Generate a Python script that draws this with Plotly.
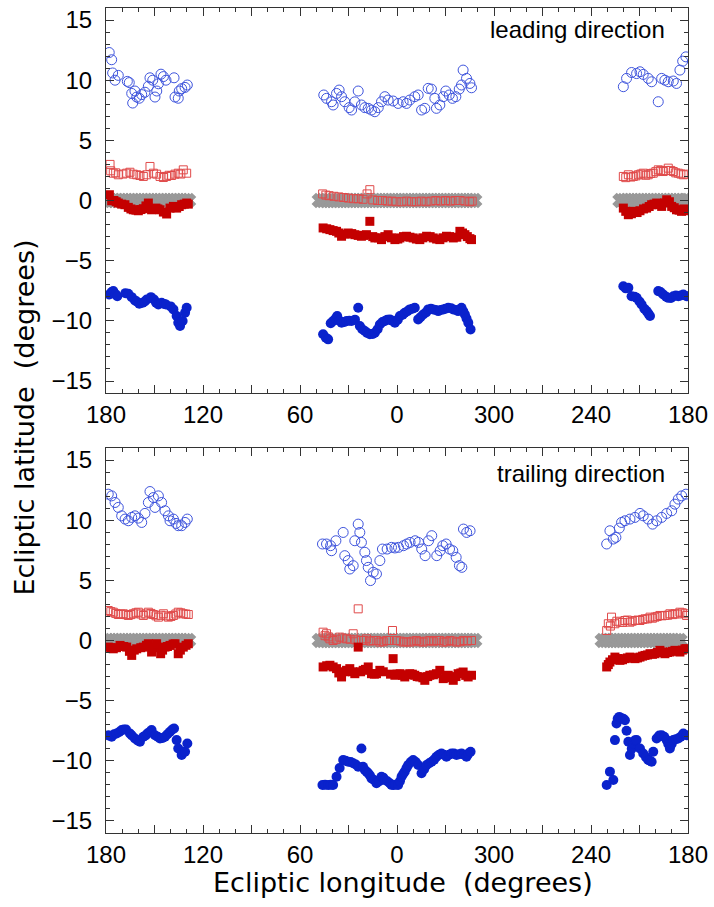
import plotly.graph_objects as go

# ---------------- data (ecliptic longitude deg, ecliptic latitude deg) ----------------
tick_labels = ['180', '120', '60', '0', '300', '240', '180']

lead_open_circles = [
    (178.0, 12.3), (176.5, 11.7), (175.9, 10.6), (174.4, 10.0), (172.4, 10.4), (166.8, 9.9), (165.6, 9.8),
    (164.1, 8.9), (163.5, 8.1), (162.1, 9.1), (161.0, 8.6), (159.4, 8.5), (157.9, 8.8), (155.9, 9.0),
    (153.8, 9.5), (152.8, 10.2), (151.1, 10.0), (149.7, 8.6), (148.6, 9.1), (147.6, 9.7), (146.0, 10.5),
    (144.5, 10.3), (142.9, 10.0), (137.9, 10.2), (137.3, 8.6), (135.3, 8.5), (134.7, 9.1), (133.2, 9.3),
    (131.1, 9.4), (129.7, 9.6),
    (45.3, 8.77), (43.6, 8.49), (40.5, 8.21), (39.5, 7.94), (37.4, 8.9), (35.8, 9.18), (34.3, 8.63),
    (32.3, 8.21), (29.6, 7.72), (28.1, 7.52), (26.1, 8.2), (24.0, 9.1), (22.0, 7.94), (19.9, 7.72),
    (17.8, 7.66), (15.8, 7.52), (13.7, 7.38), (11.6, 7.72), (9.6, 8.21), (7.5, 8.63), (5.5, 8.35),
    (2.4, 8.27), (359.3, 8.07), (356.2, 8.21), (354.1, 8.07), (352.1, 8.35), (349.0, 8.63), (346.9, 8.77),
    (344.8, 7.52), (342.8, 7.66), (340.7, 9.32), (338.7, 9.26), (336.6, 8.49), (335.6, 7.66), (333.5, 7.94),
    (331.4, 8.63), (329.8, 9.1), (327.7, 8.77), (325.7, 8.49), (323.6, 8.63), (321.5, 9.26), (320.1, 9.6),
    (319.1, 10.84), (317.0, 10.15), (314.9, 9.73), (313.9, 9.37),
    (220.0, 9.46), (218.0, 10.15), (214.9, 10.64), (211.8, 10.55), (209.7, 10.7), (207.7, 10.48),
    (204.6, 10.15), (202.5, 9.87), (198.4, 8.21), (196.3, 10.15), (194.3, 10.0), (192.2, 9.87),
    (189.1, 9.93), (187.1, 9.73), (185.0, 10.84), (183.3, 11.58), (181.3, 11.94),
]

lead_open_squares = [
    (177.5, 3.0), (177.1, 2.47), (175.5, 2.27), (174.0, 2.3), (172.4, 2.14), (169.5, 2.2), (167.2, 2.27),
    (165.2, 2.35), (163.1, 2.19), (161.0, 2.14), (159.0, 2.08), (156.9, 2.0), (154.8, 2.14), (152.8, 2.83),
    (150.7, 2.27), (148.7, 2.19), (146.6, 2.0), (144.5, 1.91), (142.5, 2.0), (141.0, 2.1), (139.4, 2.08),
    (137.3, 2.19), (135.3, 2.27), (133.7, 2.2), (132.2, 2.55), (130.1, 2.27),
    (46, 0.55), (44, 0.45), (42, 0.4), (39, 0.35), (36, 0.3), (33, 0.25), (30, 0.2), (27, 0.15), (24, 0.15),
    (21, 0.1), (18.5, 0.55), (16.8, 0.9), (15, 0.05), (12, 0.0), (9, 0.0), (6, -0.05), (3, -0.05),
    (0.5, -0.1), (357, -0.1), (354, -0.05), (351, -0.1), (348, -0.1), (345, -0.05), (342, -0.1),
    (339, -0.05), (336, 0.0), (333, -0.05), (330, 0.0), (327, -0.05), (324, 0.0), (321, 0.0), (318, -0.05),
    (315, -0.1), (313.5, -0.05),
    (220.0, 2.0), (218.5, 1.9), (216.9, 2.14), (215.3, 1.95), (213.8, 2.0), (212.2, 2.05), (210.7, 2.14),
    (209.2, 2.2), (207.7, 2.27), (206.1, 2.1), (204.6, 2.14), (203.0, 2.25), (201.5, 2.27), (199.9, 2.4),
    (198.4, 2.55), (196.9, 2.5), (195.3, 2.41), (193.8, 2.5), (192.2, 2.69), (190.6, 2.5), (189.1, 2.41),
    (187.6, 2.3), (186.0, 2.27), (184.4, 2.2), (182.9, 2.14), (180.8, 2.19),
]

lead_filled_squares = [
    (177.9, 0.48), (176.5, -0.02), (175.1, 0.0), (173.7, -0.1), (172.4, -0.21), (170.3, -0.3), (168.3, -0.35),
    (166.2, -0.57), (164.6, -0.7), (163.1, -0.77), (161.5, -0.8), (160.0, -0.85), (158.4, -0.75),
    (156.9, -0.68), (155.3, -0.45), (153.8, -0.21), (151.8, -0.77), (150.5, -0.7), (149.1, -0.63),
    (147.9, -0.7), (146.6, -0.77), (144.5, -0.96), (142.5, -1.12), (140.4, -0.63), (138.3, -0.49),
    (136.3, -0.63), (134.7, -0.5), (133.2, -0.35), (131.6, -0.3), (130.1, -0.21), (129.1, -0.3),
    (45.7, -2.28), (43.5, -2.35), (41.5, -2.42), (39.5, -2.5), (37.4, -2.56), (36.0, -2.7), (34.3, -2.97),
    (32.0, -2.8), (30.2, -2.7), (28.0, -2.75), (26.1, -2.84), (24.0, -2.9), (22.0, -2.97), (20.5, -2.9),
    (18.9, -2.84), (16.8, -1.73), (15.0, -3.0), (13.7, -3.11), (11.5, -3.1), (9.6, -3.25), (7.5, -3.0),
    (5.5, -2.84), (3.5, -3.1), (1.3, -3.25), (359.5, -3.2), (358.2, -3.11), (356.0, -3.0), (354.1, -2.97),
    (352.0, -3.05), (350.0, -3.11), (348.0, -3.2), (345.9, -3.25), (344.0, -3.1), (341.7, -2.97),
    (339.5, -3.0), (337.6, -3.11), (335.5, -3.2), (333.5, -3.25), (331.5, -3.1), (329.4, -2.97),
    (327.5, -3.0), (325.2, -3.11), (323.0, -3.05), (321.1, -2.56), (319.5, -2.7), (318.0, -2.84),
    (316.5, -3.0), (314.9, -3.17), (313.9, -3.25),
    (220.0, -0.63), (218.5, -0.9), (216.9, -1.18), (215.0, -1.1), (213.8, -0.9), (211.5, -1.0), (209.7, -0.85),
    (207.5, -0.7), (205.6, -0.63), (204.0, -0.5), (202.5, -0.35), (201.0, -0.3), (199.4, -0.21),
    (198.0, -0.35), (196.3, -0.49), (194.5, -0.2), (193.2, 0.06), (191.5, -0.1), (190.1, -0.49),
    (188.5, -0.6), (187.1, -0.77), (185.5, -0.8), (184.0, -0.9), (182.5, -0.7), (180.9, -0.85),
]

lead_filled_circles = [
    (177.9, -7.81), (176.5, -7.6), (175.5, -7.53), (174.0, -7.8), (173.0, -7.95), (168.0, -7.7), (166.2, -7.75),
    (164.1, -8.03), (162.1, -8.3), (161.0, -8.4), (159.4, -8.58), (157.3, -8.5), (156.0, -8.4), (154.8, -8.22),
    (152.2, -8.03), (150.3, -8.22), (149.0, -8.5), (147.6, -8.64), (145.6, -8.5), (144.0, -8.6), (142.9, -8.64),
    (140.0, -8.8), (138.3, -9.05), (136.3, -9.6), (135.3, -10.16), (134.2, -10.43), (132.6, -10.02),
    (131.1, -9.33), (130.1, -8.91),
    (45.7, -11.12), (44.0, -11.4), (42.6, -11.54), (41.0, -10.2), (39.5, -10.02), (38.0, -9.8), (37.0, -9.6),
    (35.5, -10.0), (34.3, -10.16), (32.5, -10.1), (31.2, -10.02), (29.5, -10.0), (28.1, -10.02), (26.0, -9.9),
    (24.0, -8.91), (23.0, -10.43), (21.5, -10.7), (19.9, -10.85), (18.5, -11.0), (16.8, -11.12), (15.0, -11.1),
    (13.7, -10.99), (12.0, -10.7), (10.6, -10.3), (9.0, -10.1), (7.5, -10.02), (6.0, -9.9), (4.4, -9.88),
    (3.0, -10.0), (1.3, -10.16), (359.5, -9.9), (358.2, -9.6), (356.5, -9.5), (355.2, -9.33), (353.5, -9.2),
    (352.1, -9.05), (350.5, -9.0), (349.0, -8.91), (346.9, -9.88), (345.5, -9.7), (343.8, -9.47), (342.0, -9.3),
    (340.7, -9.05), (339.0, -9.0), (337.6, -9.05), (336.0, -9.1), (334.5, -9.19), (333.0, -9.1), (331.4, -9.05),
    (330.0, -9.0), (328.3, -8.91), (326.5, -8.95), (325.2, -9.05), (323.5, -9.1), (322.2, -9.19), (320.1, -8.91),
    (319.0, -9.2), (318.0, -9.47), (317.0, -9.8), (315.9, -10.16), (314.5, -10.71),
    (220.0, -7.12), (218.5, -7.3), (216.9, -7.26), (214.9, -7.95), (213.0, -8.0), (211.8, -8.09), (210.0, -8.4),
    (208.7, -8.64), (207.0, -9.0), (205.6, -9.19), (204.5, -9.4), (203.5, -9.6), (198.4, -7.53), (197.0, -7.6),
    (195.3, -7.81), (193.5, -8.0), (192.2, -8.09), (190.5, -8.1), (189.1, -7.95), (187.5, -7.9), (186.0, -7.95),
    (184.5, -7.9), (182.9, -7.81), (180.9, -7.95),
]

lead_gray_lon = [179, 177, 175, 173, 171, 169, 167, 165, 163, 161, 159, 157, 155, 153, 151, 149, 147, 145,
                 143, 141, 139, 137, 135, 133, 131, 129,
                 48, 46, 44, 42, 40, 38, 36, 34, 32, 30, 28, 26, 24, 22, 20, 18, 16, 14, 12, 10, 8, 6, 4, 2, 0,
                 358, 356, 354, 352, 350, 348, 346, 344, 342, 340, 338, 336, 334, 332, 330, 328, 326, 324, 322,
                 320, 318, 316, 314, 312,
                 222, 220, 218, 216, 214, 212, 210, 208, 206, 204, 202, 200, 198, 196, 194, 192, 190, 188, 186,
                 184, 182, 181]
lead_gray_lat = [0.0] * len(lead_gray_lon)

trail_open_circles = [
    (178.6, 12.16), (176.5, 12.02), (174.4, 11.47), (172.4, 11.06), (170.3, 10.36), (168.2, 10.09), (166.2, 9.95),
    (164.1, 10.23), (162.1, 10.36), (160.0, 10.17), (157.9, 9.81), (155.9, 10.56), (153.8, 11.47), (152.8, 12.38),
    (150.7, 11.88), (149.7, 11.06), (147.6, 12.02), (145.6, 11.47), (143.5, 10.78), (141.4, 10.36), (140.4, 9.95),
    (138.3, 10.09), (136.7, 9.73), (135.3, 9.54), (133.2, 9.54), (131.1, 9.81), (129.7, 10.09),
    (46.1, 8.02), (43.6, 8.02), (41.1, 7.88), (40.5, 7.46), (37.8, 8.29), (33.3, 8.98), (32.3, 7.05), (30.2, 6.64),
    (29.2, 5.94), (27.1, 6.22), (26.1, 8.29), (24.0, 9.67), (23.0, 8.98), (22.0, 8.15), (19.9, 7.33), (18.9, 6.64),
    (17.8, 6.08), (16.4, 4.98), (14.7, 5.67), (12.7, 5.53), (10.6, 6.64), (9.0, 7.6), (6.1, 7.6), (3.4, 7.74),
    (1.3, 7.69), (359.1, 7.74), (356.0, 7.88), (354.0, 8.02), (351.9, 8.15), (348.8, 8.29), (346.7, 8.15),
    (344.7, 7.6), (342.6, 7.05), (340.5, 8.29), (338.5, 8.71), (335.4, 7.05), (333.3, 7.46), (331.7, 7.88),
    (329.6, 8.02), (327.5, 7.6), (325.5, 7.46), (323.4, 6.91), (321.4, 6.22), (319.9, 6.08), (318.9, 9.26),
    (316.9, 8.98), (314.8, 9.12),
    (230.3, 8.02), (228.3, 9.12), (226.2, 8.43), (224.6, 8.57), (222.5, 9.34), (221.1, 9.81), (219.0, 9.95),
    (215.9, 10.09), (212.8, 10.23), (209.7, 10.56), (207.7, 10.36), (204.6, 10.09), (201.9, 9.67), (199.4, 9.95),
    (196.3, 10.23), (193.2, 10.56), (190.1, 10.78), (188.1, 11.33), (186.0, 11.75), (183.9, 12.02), (181.3, 12.16),
]

trail_open_squares = [
    (178.6, 2.49), (177.0, 2.4), (175.5, 2.35), (174.0, 2.25), (172.4, 2.16), (170.8, 2.2), (169.3, 2.22),
    (167.7, 2.15), (166.2, 2.08), (164.6, 2.15), (163.1, 2.22), (161.5, 2.3), (160.0, 2.35), (158.4, 2.2),
    (156.9, 2.08), (155.3, 2.2), (153.8, 2.35), (152.2, 2.25), (150.7, 2.16), (149.1, 2.05), (147.6, 1.94),
    (146.0, 2.1), (144.5, 2.22), (142.9, 2.05), (141.4, 1.94), (139.8, 2.0), (138.3, 2.08), (136.8, 2.2),
    (135.3, 2.35), (133.7, 2.3), (132.2, 2.22), (130.6, 2.2), (129.1, 2.16),
    (45.7, 0.69), (44.5, 0.4), (43.6, 0.56), (42.5, 0.3), (41.5, 0.14), (39.5, 0.0), (37.5, 0.1), (35.4, 0.28),
    (33.5, 0.2), (31.2, 0.14), (29.0, 0.1), (27.1, 0.56), (25.5, 0.05), (24.0, 2.63), (22.0, 0.0), (20.5, 0.0),
    (18.9, 0.14), (16.5, -0.05), (14.7, 0.0), (12.5, 0.0), (10.6, -0.13), (8.5, -0.1), (6.5, 0.0), (4.5, 0.0),
    (2.8, 0.83), (0.3, 0.0), (358.0, -0.05), (356.0, -0.13), (354.0, -0.1), (351.9, -0.13), (350.0, -0.05),
    (347.9, 0.0), (346.0, -0.1), (343.8, -0.13), (342.0, -0.05), (339.7, 0.0), (337.5, -0.1), (335.6, 0.0),
    (333.5, 0.0), (331.4, -0.13), (329.5, -0.1), (327.3, 0.0), (325.5, -0.05), (323.2, -0.13), (321.0, -0.1),
    (319.1, 0.0), (316.5, -0.05), (313.9, 0.0),
    (230.3, 0.83), (229.3, 1.39), (228.0, 1.2), (227.3, 1.94), (225.2, 1.39), (224.0, 1.6), (222.1, 1.52),
    (220.5, 1.5), (219.0, 1.66), (217.5, 1.7), (215.9, 1.52), (214.5, 1.6), (212.8, 1.66), (211.0, 1.7),
    (209.7, 1.66), (208.0, 1.75), (206.6, 1.8), (205.0, 1.8), (203.5, 1.94), (202.0, 1.85), (200.4, 1.94),
    (199.0, 2.0), (197.4, 2.08), (196.0, 2.05), (194.3, 2.08), (192.5, 2.1), (191.2, 2.22), (189.5, 2.15),
    (188.1, 2.22), (186.5, 2.2), (185.0, 2.35), (183.5, 2.3), (181.9, 2.22), (180.9, 2.08),
]

trail_filled_squares = [
    (178.6, -0.55), (177.0, -0.6), (175.5, -0.69), (173.5, -0.6), (171.3, -0.41), (169.0, -0.5), (167.2, -0.55),
    (165.5, -0.9), (164.1, -1.24), (162.5, -0.8), (161.0, -0.69), (158.5, -0.6), (156.9, -0.55), (155.0, -0.4),
    (153.8, -0.27), (151.8, -0.96), (150.0, -0.6), (148.7, -0.27), (146.2, -1.1), (145.0, -0.8), (143.5, -0.55),
    (142.0, -0.5), (140.4, -0.41), (138.5, -0.3), (137.3, -0.27), (135.3, -1.1), (134.0, -0.8), (132.2, -0.55),
    (130.5, -0.4), (129.1, -0.27),
    (45.7, -2.2), (43.5, -2.1), (41.5, -2.06), (39.5, -2.2), (37.4, -2.34), (36.0, -2.7), (34.3, -3.03),
    (32.5, -2.6), (31.2, -2.48), (29.2, -2.34), (27.5, -2.6), (26.1, -2.76), (24.0, -0.55), (22.5, -2.6),
    (20.9, -2.48), (19.5, -2.4), (17.8, -2.2), (15.8, -2.76), (14.0, -2.8), (12.7, -2.76), (10.6, -2.48),
    (8.5, -2.6), (4.0, -2.8), (2.4, -1.51), (1.3, -2.89), (0.0, -2.8), (358.2, -2.76), (356.5, -2.9),
    (355.2, -3.03), (353.5, -2.85), (352.1, -2.76), (350.5, -2.8), (349.0, -2.89), (347.5, -3.0), (345.9, -3.03),
    (344.0, -3.1), (342.8, -3.31), (341.0, -3.0), (339.7, -2.89), (337.5, -2.85), (335.6, -2.76), (333.5, -2.48),
    (331.4, -3.17), (329.5, -3.0), (328.3, -2.89), (326.5, -3.1), (325.2, -3.31), (323.5, -3.0), (322.2, -2.76),
    (320.5, -2.7), (319.1, -2.62), (317.5, -2.9), (316.0, -3.03), (313.9, -2.89),
    (230.3, -2.2), (229.3, -2.0), (228.3, -1.79), (226.7, -1.6), (225.2, -1.38), (223.6, -1.5), (222.1, -1.65),
    (220.5, -1.6), (219.0, -1.51), (217.5, -1.45), (215.9, -1.38), (214.3, -1.45), (212.8, -1.51), (211.2, -1.45),
    (209.7, -1.38), (208.1, -1.3), (206.6, -1.24), (205.0, -1.2), (203.5, -1.1), (202.0, -1.15), (200.4, -1.1),
    (199.0, -1.0), (197.4, -0.82), (195.8, -0.95), (194.3, -1.1), (192.7, -1.0), (191.2, -0.96), (189.6, -0.9),
    (188.1, -0.82), (186.5, -0.85), (185.0, -0.96), (183.5, -0.8), (181.9, -0.69), (180.9, -0.69),
]

trail_filled_circles = [
    (178.6, -7.87), (176.5, -8.0), (175.0, -7.8), (173.4, -7.73), (171.8, -7.6), (170.3, -7.45), (169.0, -7.4),
    (167.6, -7.4), (165.2, -7.73), (164.0, -7.9), (162.1, -8.14), (160.5, -8.3), (159.0, -8.42), (156.9, -8.0),
    (155.5, -7.9), (154.4, -7.73), (153.0, -7.6), (151.8, -7.45), (149.7, -7.87), (148.0, -8.0), (146.6, -8.14),
    (145.0, -8.1), (143.5, -8.0), (142.0, -7.8), (140.4, -7.59), (139.0, -7.4), (137.9, -7.31), (136.3, -8.28),
    (135.3, -8.97), (133.2, -9.52), (131.1, -9.24), (129.7, -8.56),
    (46.1, -12.01), (44.5, -12.0), (42.6, -12.01), (41.0, -12.0), (39.5, -12.01), (37.4, -11.32), (35.5, -10.6),
    (33.3, -9.94), (31.8, -10.0), (30.2, -10.08), (28.6, -10.1), (27.1, -10.21), (25.5, -10.3), (24.0, -10.49),
    (22.0, -8.97), (21.0, -10.5), (19.9, -10.77), (18.8, -10.9), (17.8, -11.04), (16.8, -11.2), (15.8, -11.46),
    (14.2, -11.6), (12.7, -11.87), (11.0, -11.7), (9.6, -11.32), (8.5, -11.4), (7.5, -11.6), (6.0, -11.7),
    (4.4, -11.87), (3.4, -12.0), (2.4, -12.01), (1.0, -12.0), (359.3, -12.01), (358.2, -11.7), (357.2, -11.32),
    (356.2, -11.1), (355.2, -10.9), (354.1, -10.6), (353.1, -10.35), (351.5, -10.1), (350.0, -9.94),
    (348.4, -10.1), (346.9, -10.35), (344.8, -11.04), (343.2, -10.7), (341.7, -10.35), (340.1, -10.2),
    (338.6, -10.08), (337.0, -9.9), (335.6, -9.66), (334.0, -9.5), (332.5, -9.39), (331.0, -9.5), (329.4, -9.66),
    (327.8, -9.5), (326.3, -9.39), (324.7, -9.4), (323.2, -9.52), (321.6, -9.45), (320.1, -9.39), (318.5, -9.5),
    (317.0, -9.66), (315.8, -9.4), (314.5, -9.25),
    (230.3, -12.01), (228.3, -10.9), (226.2, -11.6), (225.2, -8.28), (224.2, -6.9), (223.5, -6.5), (222.5, -6.35),
    (221.1, -6.49), (220.0, -6.5), (219.0, -6.63), (218.0, -7.5), (216.9, -8.42), (215.9, -9.52), (214.8, -9.0),
    (213.8, -8.56), (212.8, -8.3), (211.8, -8.28), (209.7, -8.97), (207.7, -9.39), (206.0, -9.7), (204.6, -9.94),
    (203.5, -10.0), (202.5, -10.08), (201.5, -9.24), (199.4, -8.14), (197.8, -7.9), (196.3, -7.87), (194.7, -8.0),
    (193.2, -8.28), (192.2, -8.6), (191.2, -8.97), (190.1, -8.6), (189.1, -8.28), (187.5, -8.2), (186.0, -8.14),
    (184.5, -8.0), (182.9, -7.73), (180.9, -7.87),
]

trail_gray_lon = [179, 177, 175, 173, 171, 169, 167, 165, 163, 161, 159, 157, 155, 153, 151, 149, 147, 145,
                  143, 141, 139, 137, 135, 133, 131, 129,
                  48, 46, 44, 42, 40, 38, 36, 34, 32, 30, 28, 26, 24, 22, 20, 18, 16, 14, 12, 10, 8, 6, 4, 2, 0,
                  358, 356, 354, 352, 350, 348, 346, 344, 342, 340, 338, 336, 334, 332, 330, 328, 326, 324, 322,
                  320, 318, 316, 314, 312,
                  233, 231, 229, 227, 225, 223, 221, 219, 217, 215, 213, 211, 209, 207, 205, 203, 201, 199, 197,
                  195, 193, 191, 189, 187, 185]
trail_gray_lat = [0.0] * len(trail_gray_lon)

# ---------------- helpers ----------------
def axis_pos(lons):
    # axis runs 180 -> 0 -> 300 -> 240 -> 180 (longitude decreasing left to right)
    return [(180.0 - v) % 360.0 for v in lons]

def split(pairs):
    return [p[0] for p in pairs], [p[1] for p in pairs]

C_OPEN_CIRC = '#3f55dd'
C_FILL_CIRC = '#0a22cc'
C_OPEN_SQ = '#e04a4a'
C_FILL_SQ = '#c40000'
C_GRAY = '#999999'

fig = go.Figure()

def add_panel(xa, ya, oc, osq, fsq, fc, glon, glat):
    lon, lat = split(oc)
    fig.add_trace(go.Scatter(x=axis_pos(lon), y=lat, mode='markers', xaxis=xa, yaxis=ya,
                             marker=dict(symbol='circle-open', size=10, color=C_OPEN_CIRC, line=dict(width=1))))
    fig.add_trace(go.Scatter(x=axis_pos(glon), y=glat, mode='markers', xaxis=xa, yaxis=ya,
                             marker=dict(symbol='x', size=12, color=C_GRAY,
                                         line=dict(width=1.5, color=C_GRAY))))
    lon, lat = split(osq)
    fig.add_trace(go.Scatter(x=axis_pos(lon), y=lat, mode='markers', xaxis=xa, yaxis=ya,
                             marker=dict(symbol='square-open', size=8, color=C_OPEN_SQ, line=dict(width=1))))
    lon, lat = split(fsq)
    fig.add_trace(go.Scatter(x=axis_pos(lon), y=lat, mode='markers', xaxis=xa, yaxis=ya,
                             marker=dict(symbol='square', size=9, color=C_FILL_SQ, line=dict(width=0))))
    lon, lat = split(fc)
    fig.add_trace(go.Scatter(x=axis_pos(lon), y=lat, mode='markers', xaxis=xa, yaxis=ya,
                             marker=dict(symbol='circle', size=10, color=C_FILL_CIRC, line=dict(width=0))))

add_panel('x', 'y', lead_open_circles, lead_open_squares, lead_filled_squares, lead_filled_circles,
          lead_gray_lon, lead_gray_lat)
add_panel('x2', 'y2', trail_open_circles, trail_open_squares, trail_filled_squares, trail_filled_circles,
          trail_gray_lon, trail_gray_lat)

TICK_FONT = dict(family='Liberation Sans, Arial, Helvetica, sans-serif', size=24, color='black')
LINE_C = '#333333'

x_tickvals = [0, 30, 60, 90, 120, 150, 180, 210, 240, 270, 300, 330, 360]
x_ticktext = []
for i, v in enumerate(x_tickvals):
    x_ticktext.append(tick_labels[i // 2] if i % 2 == 0 else '')

def xaxis_cfg(anchor):
    return dict(range=[0, 360], anchor=anchor, domain=[0, 1], tickmode='array', tickvals=x_tickvals,
                ticktext=x_ticktext, ticks='inside', ticklen=8, tickwidth=1, tickcolor=LINE_C,
                minor=dict(dtick=10, tick0=0, ticks='inside', ticklen=4, tickwidth=1, tickcolor=LINE_C,
                           showgrid=False),
                showline=True, linecolor=LINE_C, linewidth=1, mirror='allticks', showgrid=False,
                zeroline=False, tickfont=TICK_FONT, ticklabelstandoff=0)

def yaxis_cfg(anchor, domain):
    return dict(range=[-16, 16], anchor=anchor, domain=domain, tickmode='array',
                tickvals=[-15, -10, -5, 0, 5, 10, 15], ticks='inside', ticklen=8, tickwidth=1,
                tickcolor=LINE_C,
                minor=dict(dtick=1, tick0=0, ticks='inside', ticklen=4, tickwidth=1, tickcolor=LINE_C,
                           showgrid=False),
                showline=True, linecolor=LINE_C, linewidth=1, mirror='allticks', showgrid=False,
                zeroline=False, tickfont=TICK_FONT, ticklabelstandoff=8)

fig.update_layout(
    width=714, height=907,
    margin=dict(l=106, r=26, t=6, b=74),
    paper_bgcolor='white', plot_bgcolor='white',
    showlegend=False,
    xaxis=xaxis_cfg('y'),
    yaxis=yaxis_cfg('x', [0.5333, 1.0]),
    xaxis2=xaxis_cfg('y2'),
    yaxis2=yaxis_cfg('x2', [0.0, 0.4667]),
    annotations=[
        dict(text='leading direction', xref='x', yref='y', x=347, y=14.2, xanchor='right', yanchor='middle',
             showarrow=False, font=dict(family='Liberation Sans, Arial, sans-serif', size=24, color='black')),
        dict(text='trailing direction', xref='x2', yref='y2', x=347, y=13.9, xanchor='right', yanchor='middle',
             showarrow=False, font=dict(family='Liberation Sans, Arial, sans-serif', size=24, color='black')),
        dict(text='Ecliptic longitude  (degrees)', xref='paper', yref='paper', x=0.51, y=-0.0605,
             xanchor='center', yanchor='middle', showarrow=False,
             font=dict(family='DejaVu Sans, sans-serif', size=27, color='black')),
        dict(text='Ecliptic latitude  (degrees)', xref='paper', yref='paper', x=0, y=0.5036, xshift=-81,
             xanchor='center', yanchor='middle', textangle=-90, showarrow=False,
             font=dict(family='DejaVu Sans, sans-serif', size=27, color='black')),
    ],
)

fig.write_html('out.html', config={'displayModeBar': False},
               post_script="document.body.style.margin='0px';")
